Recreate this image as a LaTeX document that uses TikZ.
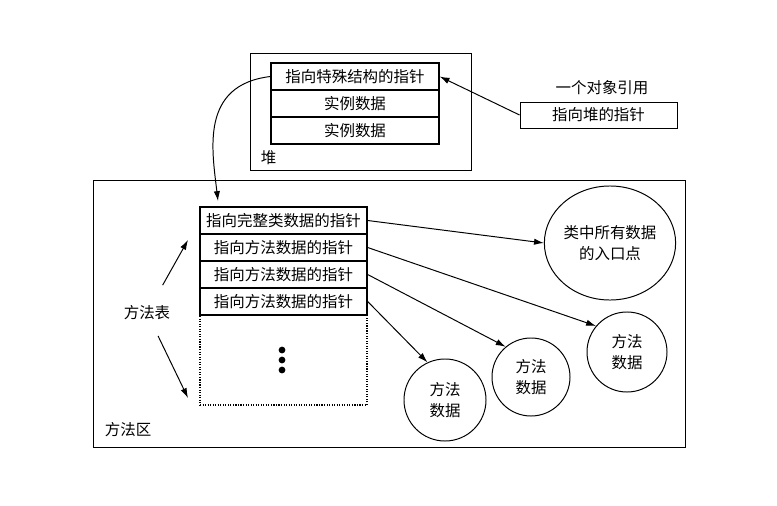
\documentclass[tikz,border=0pt]{standalone}
\usepackage{fontspec}
\setmainfont{Noto Sans CJK SC}
\usepackage{tikz}
\usetikzlibrary{arrows.meta,shapes.geometric}

\tikzset{
	cell/.style={draw, line width=0.9pt, inner sep=0pt, minimum height=0.675cm},
	heapcell/.style={cell, minimum width=4.2cm},
	tblcell/.style={cell, minimum width=4.175cm},
	blob/.style={draw, line width=0.7pt, circle, inner sep=0pt, align=center},
	ptr/.style={-{Latex[length=7pt,width=4.5pt]}, line width=0.7pt},
}

\begin{document}
\begin{tikzpicture}[x=0.025cm, y=-0.025cm, font=\fontsize{11}{15}\selectfont]
		\useasboundingbox (0,0) rectangle (777,506);
		% heap
		\draw[line width=0.6pt] (250,53) rectangle (471,170);
		\node[heapcell] (heapptr) at (355,76.5) {指向特殊结构的指针};
		\node[heapcell] (inst1) at (355,103.5) {实例数据};
		\node[heapcell] (inst2) at (355,130.5) {实例数据};
		\node[anchor=west] (heap) at (256,158) {堆};
		% reference
		\node (reftext) at (602,88) {一个对象引用};
		\node[draw, line width=0.6pt, minimum width=3.925cm, minimum height=0.65cm] (ref) at (598.5,115) {指向堆的指针};
		\draw[ptr] (ref.west) -- (heapptr.east);
		% method area
		\draw[line width=0.6pt] (93,180) rectangle (685,447);
		\node[anchor=west] (area) at (100,430) {方法区};
		\node[tblcell] (row1) at (283.5,220.5) {指向完整类数据的指针};
		\node[tblcell] (row2) at (283.5,247.5) {指向方法数据的指针};
		\node[tblcell] (row3) at (283.5,274.5) {指向方法数据的指针};
		\node[tblcell] (row4) at (283.5,301.5) {指向方法数据的指针};
		\node[draw, densely dotted, line width=0.8pt, minimum width=4.175cm, minimum height=2.25cm] (more) at (283.5,360) {};
		\foreach \y in {350,360,370}
			\fill (282,\y) circle (2.4pt);
		\coordinate (tabtop) at (218,201);
		\draw[ptr] (heapptr.west) .. controls (200,85) and (212,150) .. (tabtop);
		% method table label
		\node (tbl) at (147,313) {方法表};
		\coordinate (tblup) at (188,240);
		\coordinate (tbldown) at (188,398);
		\draw[ptr, shorten <=0.45cm] (tbl) -- (tblup);
		\draw[ptr, shorten <=0.3cm] (tbl) -- (tbldown);
		% data
		\node[blob, ellipse, minimum width=3.25cm, minimum height=2.85cm] (entry) at (610,243) {类中所有数据\\的入口点};
		\node[blob, minimum size=2cm] (md3) at (627,352) {方法\\数据};
		\node[blob, minimum size=1.95cm] (md2) at (531,377) {方法\\数据};
		\node[blob, minimum size=2.05cm] (md1) at (445,400) {方法\\数据};
		\draw[ptr] (row1.east) -- (entry.west);
		\draw[ptr] (row2.east) -- (md3.140);
		\draw[ptr] (row3.east) -- (md2.130);
		\draw[ptr] (row4.east) -- (md1.115);
	\end{tikzpicture}
\end{document}
